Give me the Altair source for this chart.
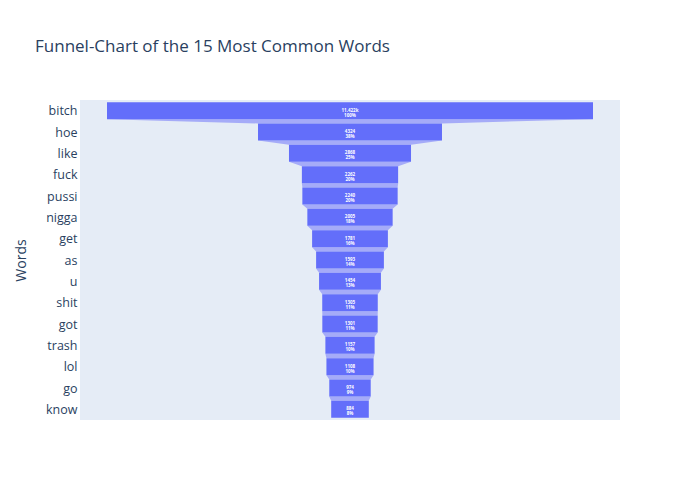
import altair as alt
import pandas as pd

words = ["bitch", "hoe", "like", "fuck", "pussi", "nigga", "get", "as", "u",
         "shit", "got", "trash", "lol", "go", "know"]
counts = [11422, 4324, 2868, 2262, 2240, 2005, 1781, 1593, 1454, 1305, 1301,
          1157, 1108, 974, 884]
value_labels = ["11.422k", "4324", "2868", "2262", "2240", "2005", "1781", "1593",
                "1454", "1305", "1301", "1157", "1108", "974", "884"]

HALF = 0.4  # half bar height in category units (bargap 0.2)

bars = pd.DataFrame({
    "idx": list(range(len(words))),
    "word": words,
    "count": counts,
    "vlabel": value_labels,
})
bars["lo"] = -bars["count"] / 2
bars["hi"] = bars["count"] / 2
bars["y0"] = bars["idx"] - HALF
bars["y1"] = bars["idx"] + HALF
bars["pct"] = (bars["count"] / counts[0] * 100).round().astype(int).astype(str) + "%"
bars["label"] = bars["vlabel"] + "\n" + bars["pct"]

rows = []
for i in range(len(words) - 1):
    rows.append({"cid": i, "y": i + HALF, "lo": -counts[i] / 2, "hi": counts[i] / 2})
    rows.append({"cid": i, "y": i + 1 - HALF, "lo": -counts[i + 1] / 2, "hi": counts[i + 1] / 2})
conn = pd.DataFrame(rows)

xr = max(counts) / 2 / 0.9
xscale = alt.Scale(domain=[-xr, xr], nice=False, zero=False)
yscale = alt.Scale(domain=[-0.5, len(words) - 0.5], reverse=True, nice=False, zero=False)

label_expr = "[" + ",".join("'" + w + "'" for w in words) + "][datum.value]"

yaxis = alt.Axis(
    title="Words", values=list(range(len(words))), labelExpr=label_expr,
    grid=False, ticks=False, domain=False, labelPadding=3, labelOverlap=False,
    labelBound=False, labelFlush=False,
    labelFontSize=12.5, labelColor="#2a3f5f", labelFont="Open Sans",
    titleFontSize=14, titleColor="#2a3f5f", titleFont="Open Sans",
    titleFontWeight="normal", titlePadding=17,
)

connectors = alt.Chart(conn).mark_area(orient="horizontal", color="#a5abf8").encode(
    y=alt.Y("y:Q", scale=yscale, axis=yaxis),
    x=alt.X("lo:Q", scale=xscale, axis=None),
    x2="hi:Q",
    detail="cid:N",
)

rects = alt.Chart(bars).mark_rect(color="#636efa").encode(
    y=alt.Y("y0:Q", scale=yscale, axis=yaxis),
    y2="y1:Q",
    x=alt.X("lo:Q", scale=xscale, axis=None),
    x2="hi:Q",
)

texts = alt.Chart(bars).mark_text(
    color="white", fontSize=4.5, lineBreak="\n", lineHeight=5, font="Open Sans",
    baseline="middle", fontWeight="bold",
).encode(
    y=alt.Y("idx:Q", scale=yscale, axis=yaxis),
    x=alt.value(270),
    text="label:N",
)

chart = alt.layer(connectors, rects, texts).properties(
    width=540, height=320,
    background="white",
    autosize=alt.AutoSizeParams(type="none"),
    padding={"left": 72, "top": 92, "right": 60, "bottom": 60},
    title=alt.TitleParams(
        "Funnel-Chart of the 15 Most Common Words", anchor="start", frame="group",
        dx=-45, offset=44, fontSize=17, font="Open Sans", fontWeight="normal",
        color="#2a3f5f",
    ),
).configure_view(fill="#e5ecf6", stroke="transparent", strokeWidth=0).configure_axis(
    labelOverlap=False
)

chart.save("out.html", embed_options={"renderer": "svg", "actions": False})
